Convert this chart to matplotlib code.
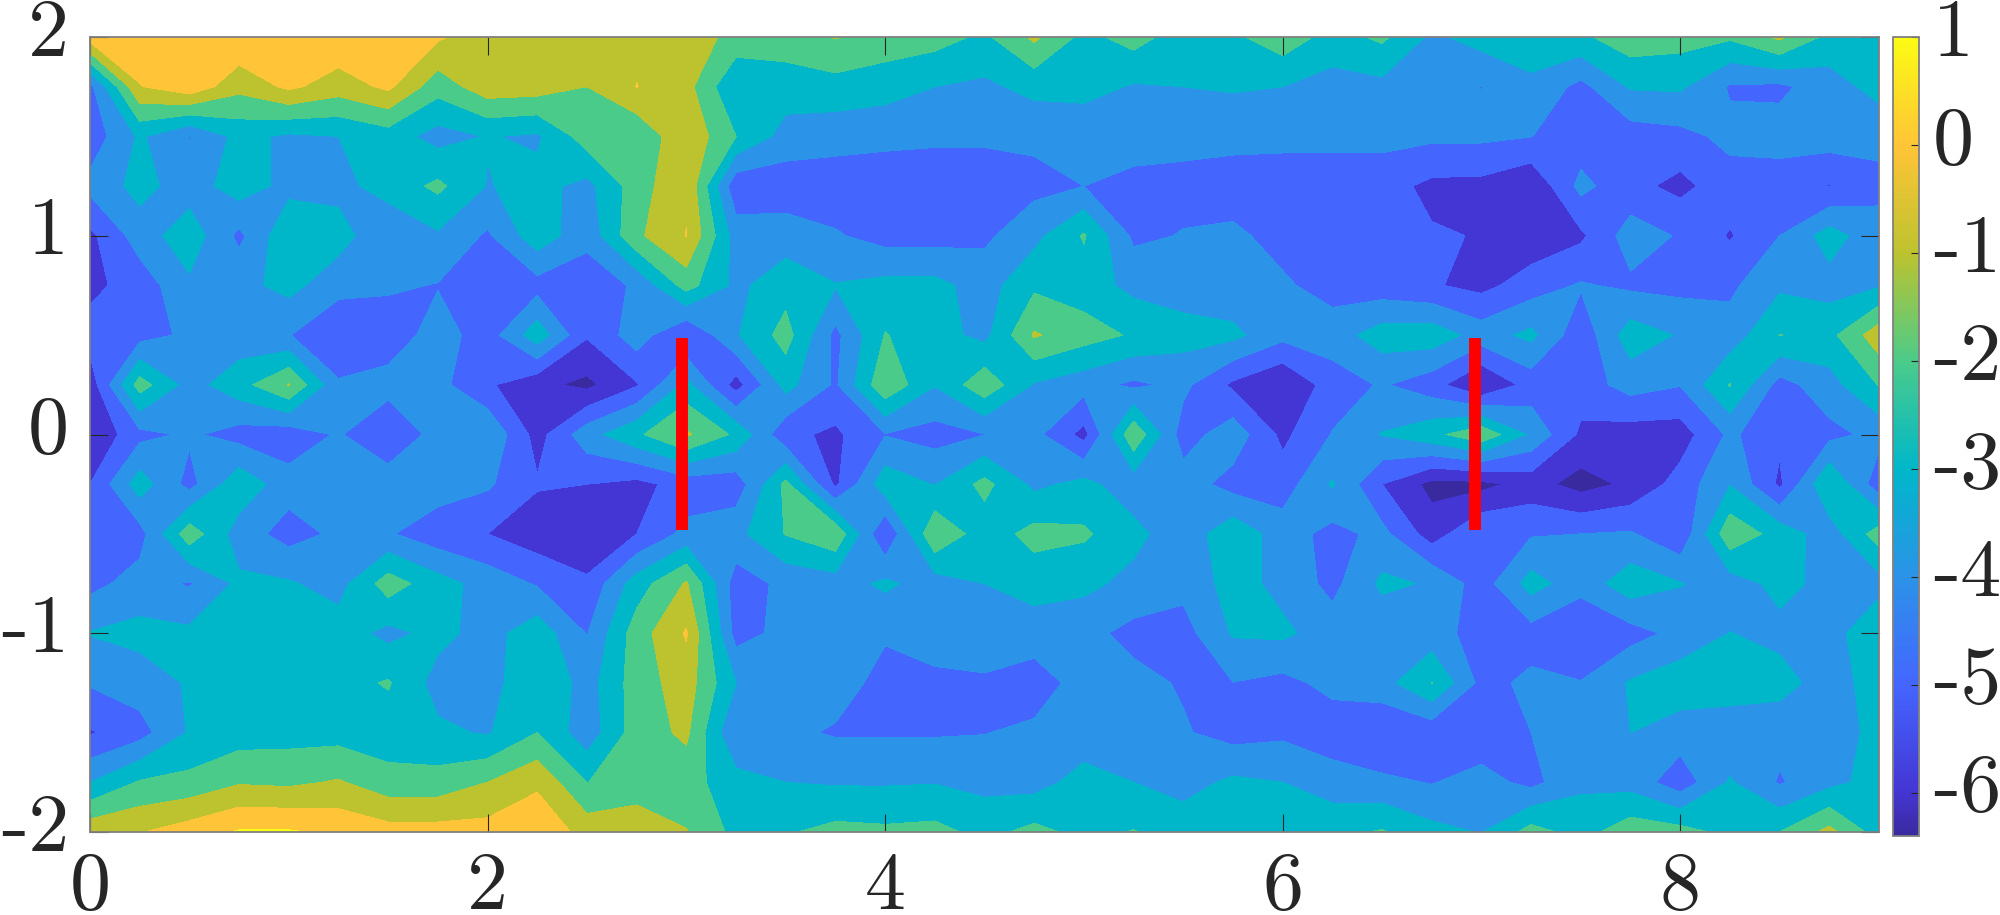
import numpy as np
import matplotlib
matplotlib.use('Agg')
import matplotlib.pyplot as plt
import matplotlib.transforms as mtransforms
from matplotlib.cm import ScalarMappable
from matplotlib.colors import LinearSegmentedColormap, Normalize

plt.rcParams['font.family'] = 'cmr10'
plt.rcParams['axes.unicode_minus'] = False

# grid of the field, 0.25 steps each way
x_grid = np.linspace(0, 9, 37)
y_grid = np.linspace(2, -2, 17)

# field values, one list per y row, top row first
row_p200 = [.5,.6,.8,.9,.8,.8,.6,.15,-.6,-.5,-.4,-.2,-.4,-1.35,-1.5,-.95,-1.4,-1.6,-2.2,-.8,-2.3,-1.6,-2.5,-2.2,-1.4,-2.4,-1.8,-3.2,-2.6,-2.5,-2.2,-1.4,-1.6,-1.85,-.8,-2.3,-2.6]
row_p175 = [-4.3,-.05,.7,-.7,.2,-.5,.2,-1.6,-.4,-.5,-1.0,.02,-.65,-2.95,-2.5,-2.4,-2.6,-3,-3.2,-2.7,-2.6,-3.1,-3,-2.9,-3,-3.4,-3.3,-3.6,-4.02,-3.2,-4.3,-2.9,-2.85,-4.1,-4.2,-3.5,-2.6]
row_p150 = [-4.6,-2.85,-4.05,-2.7,-3.17,-3.0,-2.5,-3.4,-2.95,-3.15,-1.5,-1.85,-.2,-2,-3.4,-3.6,-3.7,-3.8,-3.8,-3.8,-3.8,-3.7,-3.7,-3.7,-3.7,-3.7,-3.7,-3.8,-3.8,-3.98,-4.6,-4.5,-4.3,-3.75,-3.6,-3.5,-3.8]
row_p125 = [-3.7,-2.67,-3.5,-2.5,-3.3,-3.3,-2.6,-1.78,-3.05,-2.7,-3.3,-1.5,-.1,-4.75,-4.6,-4.6,-4.7,-4.7,-4.7,-4.3,-4.0,-4.2,-4.3,-4.5,-4.6,-4.6,-4.6,-5.25,-5.3,-5.9,-3.7,-4.7,-5.3,-4.4,-4.5,-5.05,-4.2]
row_p100 = [-5.24,-3.52,-2.4,-4.25,-2.2,-2.6,-3.8,-3.15,-4.15,-2.4,-3.7,-1.2,.02,-3.45,-3.5,-3.9,-4.4,-4.4,-4.2,-3.3,-1.9,-4.2,-3.95,-3.8,-4.35,-4.6,-4.8,-4.9,-5.05,-5.7,-5.2,-3.5,-4.1,-5.1,-4.0,-2.55,-3.7]
row_p075 = [-5.25,-4.57,-3.2,-3.3,-2.7,-3.6,-3.85,-4.05,-4.5,-4.4,-4.6,-3.85,-1.6,-3.25,-2.4,-2.95,-2.7,-2.7,-3.45,-2.2,-2.5,-3.3,-3.5,-3.7,-3.85,-4.4,-4.6,-4.9,-5.3,-4.5,-3.9,-4.2,-4.3,-4.2,-3.2,-3.4,-3.1]
row_p050 = [-4.6,-4.4,-3.8,-3.6,-3.95,-5.02,-4.6,-3.55,-4.5,-2.4,-4.9,-3.5,-5.05,-3.1,-1.6,-4.27,-1.95,-2.6,-3.3,-.9,-1.57,-2.12,-2.6,-2.75,-3.7,-3.5,-2.5,-2.4,-3.45,-2.75,-4.7,-2.45,-3.1,-3.6,-1.98,-2.3,-.4]
row_p025 = [-5.6,-1.55,-3.4,-2.4,-.95,-3.85,-3.6,-3.7,-4.85,-5.75,-6.25,-5.1,-2.7,-5.45,-2.65,-4.15,-1.2,-2.95,-1.3,-3.1,-3.6,-4.2,-3.75,-5.2,-6.03,-4.5,-3.9,-4.6,-6.03,-4.6,-4.5,-3.6,-3.95,-1.95,-4.4,-3.4,-1.95]
row_000 = [-5.9,-4.3,-3.85,-4.4,-4.6,-3.9,-4.9,-3.6,-3.1,-5.4,-3.4,-2.2,-.85,-2.2,-4.75,-5.2,-4.05,-4.4,-4.02,-3.7,-5.35,-1.2,-4.5,-3.4,-5.25,-3.95,-2.95,-2.3,-1.25,-3.2,-5.2,-5.5,-5.5,-3.8,-4.8,-4.3,-3.7]
row_m025 = [-5.0,-2.5,-4.35,-2.3,-3.6,-3.5,-3.4,-3.5,-3.85,-4.9,-5.0,-5.3,-4.6,-4.6,-1.75,-5.2,-2.4,-3.05,-1.7,-3.25,-2.7,-3.6,-3.5,-4.4,-4.5,-2.9,-5.0,-6.3,-6.3,-5.6,-6.4,-5.8,-4.6,-3.05,-5.2,-2.0,-4.6]
row_m050 = [-4.6,-4.4,-1.4,-3.5,-4.4,-3.8,-3.9,-4.6,-5.0,-5.6,-5.9,-5.0,-3.7,-3.3,-1.95,-1.2,-5.0,-1.1,-2.57,-1.65,-1.85,-2.7,-3.64,-2.3,-3.5,-4.35,-3.7,-5.5,-4.03,-4.1,-4.0,-3.9,-4.8,-1.3,-2.4,-3.55,-1.5]
row_m075 = [-4.3,-3.6,-4.1,-2.8,-2.9,-3.4,-1.5,-2.6,-3.4,-4.1,-4.8,-2.5,-.9,-4.5,-3.75,-3.5,-2.8,-3.5,-3.0,-2.6,-2.75,-3.3,-3.7,-2.6,-3.3,-4.3,-2.8,-3.1,-4.5,-2.6,-3.6,-2.4,-2.95,-3.5,-2.7,-3.3,-3.4]
row_m100 = [-2.95,-2.7,-2.8,-2.5,-2.4,-2.5,-3.3,-2.7,-3.4,-2.4,-4.05,-1.5,.1,-4.4,-3.7,-3.6,-3.9,-3.7,-3.6,-3.5,-3.7,-4.3,-4.4,-2.9,-2.8,-3.5,-3.7,-3.6,-4.4,-4.4,-5.02,-4.4,-3.7,-2.98,-3.3,-3.5,-2.05]
row_m125 = [-3.9,-3.5,-2.9,-2.5,-2.5,-2.4,-1.9,-3.4,-3.5,-2.0,-3.45,-1.5,-.5,-3.0,-3.5,-3.6,-4.3,-4.15,-4.1,-4.5,-3.6,-3.7,-4.1,-4.02,-4.3,-3.7,-3.4,-1.98,-4.3,-3.8,-3.95,-2.9,-2.4,-2.4,-2.6,-3.5,-2.5]
row_m150 = [-5.1,-4.4,-2.9,-2.5,-2.4,-2.4,-2.6,-2.8,-3.1,-2.0,-3.6,-1.5,-.8,-4.0,-3.8,-4.1,-4.1,-4.1,-4.03,-3.8,-3.6,-3.6,-3.9,-4.4,-4.2,-4.6,-4.9,-4.7,-4.7,-4.0,-3.4,-3.0,-3.5,-3.7,-3.7,-3.5,-2.7]
row_m175 = [-3.0,-1.9,-1.7,-1.1,-1.2,-.9,-1.6,-1.6,-1.0,-.2,-2.02,-1.5,-1.6,-2.6,-3.0,-3.1,-3.1,-3.05,-3.3,-3.4,-2.6,-3.0,-3.4,-2.8,-3.0,-3.5,-3.8,-4.05,-3.6,-4.3,-3.2,-3.4,-4.6,-2.9,-4.1,-3.3,-2.6]
row_m200 = [-.3,-.05,.5,1.1,1.1,.8,.4,.4,.4,.8,-.4,-.4,-.95,-2.3,-2.1,-1.7,-1.8,-1.7,-2.3,-1.7,-2.3,-1.95,-2.4,-2.5,-2.5,-2.3,-1.9,-2.7,-3.05,-1.6,-2.4,-1.4,-1.6,-2.3,-2.0,-.7,-2.5]

# red bars
bar_x = [2.98, 6.97]
bar_y = [-0.48, 0.486]

# contour levels and the colour that fills upward from each one
levels = [-7, -6, -5, -4, -3, -2, -1, 0, 1, 2]
band_colors = ['#3a2a9f', '#4436d4', '#4466ff', '#2b93e8', '#00b7c9',
               '#4bcb8a', '#bcc32e', '#ffc437', '#fbfb14']
cbar_min, cbar_max = -6.4, 1

x_ticks = [0, 2, 4, 6, 8]
y_ticks = [-2, -1, 0, 1, 2]
cbar_ticks = [-6, -5, -4, -3, -2, -1, 0, 1]

Z = np.array([row_p200, row_p175, row_p150, row_p125, row_p100, row_p075,
              row_p050, row_p025, row_000, row_m025, row_m050, row_m075,
              row_m100, row_m125, row_m150, row_m175, row_m200])

W, H = 2000, 915
text_color = '#262626'
fs = 59

fig = plt.figure(figsize=(W / 100, H / 100), dpi=100)
ax = fig.add_axes([90 / W, (H - 832) / H, 1789 / W, 795 / H])
cax = fig.add_axes([1893 / W, (H - 836) / H, 26 / W, 799 / H])

ax.contourf(x_grid, y_grid, Z, levels=levels, colors=band_colors)
for bx in bar_x:
    ax.plot([bx, bx], bar_y, color='#ff0000', lw=8.6, solid_capstyle='butt', zorder=5)

ax.set_xlim(0, 9)
ax.set_ylim(-2, 2)
ax.set_xticks(x_ticks, [str(v) for v in x_ticks])
ax.set_yticks(y_ticks, [str(v) for v in y_ticks])
ax.tick_params(direction='in', top=True, right=True, length=13, width=0.8,
               color=text_color, labelcolor=text_color, labelsize=fs)
ax.tick_params(axis='x', pad=14)
ax.tick_params(axis='y', pad=15)
for spine in ax.spines.values():
    spine.set_color('#808080')
    spine.set_linewidth(1.3)

# colorbar runs through the band colours, anchored at their levels
stops = [(max(lv, cbar_min) - cbar_min) / (cbar_max - cbar_min) for lv in levels[:-1]]
stops[0] = 0.0
parula_like = LinearSegmentedColormap.from_list('parula_like', list(zip(stops, band_colors)))
sm = ScalarMappable(Normalize(cbar_min, cbar_max), parula_like)
cb = fig.colorbar(sm, cax=cax)
cb.set_ticks(cbar_ticks, labels=[str(v) for v in cbar_ticks])
cax.tick_params(direction='in', length=6, width=0.8, color=text_color,
                labelcolor=text_color, labelsize=fs, pad=10)
cb.outline.set_edgecolor('#808080')
cb.outline.set_linewidth(1.3)

# labels sit a little above their ticks
lift = mtransforms.ScaledTranslation(0, 10 / 100, fig.dpi_scale_trans)
for lab in ax.get_yticklabels() + cax.get_yticklabels():
    lab.set_transform(lab.get_transform() + lift)

fig.savefig('out.png', dpi=100)
